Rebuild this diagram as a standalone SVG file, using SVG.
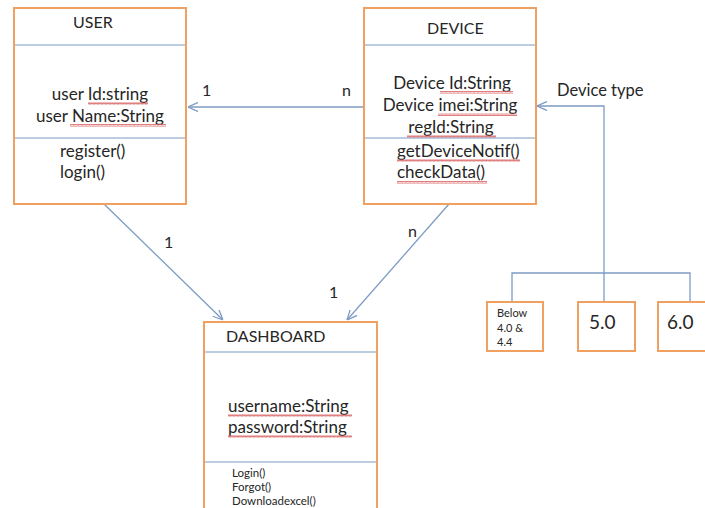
<svg xmlns="http://www.w3.org/2000/svg" width="705" height="508" viewBox="0 0 705 508">
<style>
.box{fill:#fff;stroke:#F0A060;stroke-width:2}
.div{stroke:#7C9CC4;stroke-width:1.2;fill:none}
.con{stroke:#7C9CC4;stroke-width:1.3;fill:none}
.t{font-family:Lato,"Liberation Sans",sans-serif;fill:#262626;font-size:16px}
.a{font-size:17px}
.s{font-size:11.5px}
.n{font-size:19px}
.m{text-anchor:middle}
.sq{fill:url(#wave)}
</style>
<defs>
<pattern id="wave" width="4" height="3" patternUnits="userSpaceOnUse">
<polyline points="0,2.6 1,0.4 2,2.6 3,0.4 4,2.6" fill="none" stroke="#D86060" stroke-width="0.8"/>
</pattern>
<marker id="arr" viewBox="0 0 10 10" refX="10" refY="5" markerWidth="10" markerHeight="10" markerUnits="userSpaceOnUse" orient="auto">
<polyline points="0,0.5 10,5 0,9.5" fill="none" stroke="#7C9CC4" stroke-width="1.3"/>
</marker>
</defs>
<rect width="705" height="508" fill="#fff"/>

<g id="connectors">
<line class="con" x1="364" y1="107" x2="188" y2="107" marker-end="url(#arr)"/>
<line class="con" x1="104" y1="204" x2="223" y2="320" marker-end="url(#arr)"/>
<line class="con" x1="449" y1="204" x2="347" y2="320" marker-end="url(#arr)"/>
<polyline class="con" points="604,302 604,106 537,106" marker-end="url(#arr)"/>
<polyline class="con" points="512,302 512,273 690,273 690,302"/>
<text class="t" x="202" y="96">1</text>
<text class="t" x="342" y="96">n</text>
<text class="t" x="164" y="248">1</text>
<text class="t" x="408" y="237">n</text>
<text class="t" x="329" y="298">1</text>
<text class="t" x="557" y="96" style="font-size:16.5px">Device type</text>
</g>

<g id="user">
<rect class="box" x="14" y="8" width="172" height="196"/>
<line class="div" x1="15" y1="45" x2="185" y2="45"/>
<line class="div" x1="15" y1="138" x2="185" y2="138"/>
<text class="t" x="73" y="28">USER</text>
<text class="t a m" x="100" y="100">user Id:string</text>
<text class="t a m" x="100" y="122">user Name:String</text>
<rect class="sq" x="88" y="102" width="60" height="3"/>
<rect class="sq" x="70" y="124" width="96" height="3"/>
<text class="t a" x="60" y="157">register()</text>
<text class="t a" x="60" y="178">login()</text>
</g>

<g id="device">
<rect class="box" x="364" y="8" width="172" height="196"/>
<line class="div" x1="365" y1="45" x2="535" y2="45"/>
<line class="div" x1="365" y1="138" x2="535" y2="138"/>
<text class="t" x="427" y="34">DEVICE</text>
<text class="t a m" x="452" y="89">Device Id:String</text>
<text class="t a m" x="450" y="111">Device imei:String</text>
<text class="t a m" x="451" y="133">regId:String</text>
<rect class="sq" x="440" y="91" width="73" height="3"/>
<rect class="sq" x="438" y="113" width="79" height="3"/>
<rect class="sq" x="407" y="135" width="89" height="3"/>
<text class="t a" x="397" y="157">getDeviceNotif()</text>
<text class="t a" x="397" y="178">checkData()</text>
<rect class="sq" x="397" y="159" width="123" height="3"/>
<rect class="sq" x="397" y="181" width="90" height="3"/>
</g>

<g id="dashboard">
<rect class="box" x="204" y="322" width="173" height="200"/>
<line class="div" x1="205" y1="352" x2="376" y2="352"/>
<line class="div" x1="205" y1="462" x2="376" y2="462"/>
<text class="t" x="226" y="342">DASHBOARD</text>
<text class="t a" x="228" y="412">username:String</text>
<text class="t a" x="228" y="433">password:String</text>
<rect class="sq" x="228" y="414" width="124" height="3"/>
<rect class="sq" x="228" y="435" width="124" height="3"/>
<text class="t s" x="232" y="477">Login()</text>
<text class="t s" x="232" y="491">Forgot()</text>
<text class="t s" x="232" y="505">Downloadexcel()</text>
</g>

<g id="below">
<rect class="box" x="487" y="302" width="56" height="49"/>
<text class="t s" x="497" y="317" style="font-size:11px">Below</text>
<text class="t s" x="497" y="332" style="font-size:11px">4.0 &amp;</text>
<text class="t s" x="497" y="346" style="font-size:11px">4.4</text>
</g>

<g id="v50">
<rect class="box" x="578" y="302" width="57" height="49"/>
<text class="t n" x="589" y="329">5.0</text>
</g>

<g id="v60">
<rect class="box" x="658" y="302" width="60" height="49"/>
<text class="t n" x="667" y="329">6.0</text>
</g>
</svg>
